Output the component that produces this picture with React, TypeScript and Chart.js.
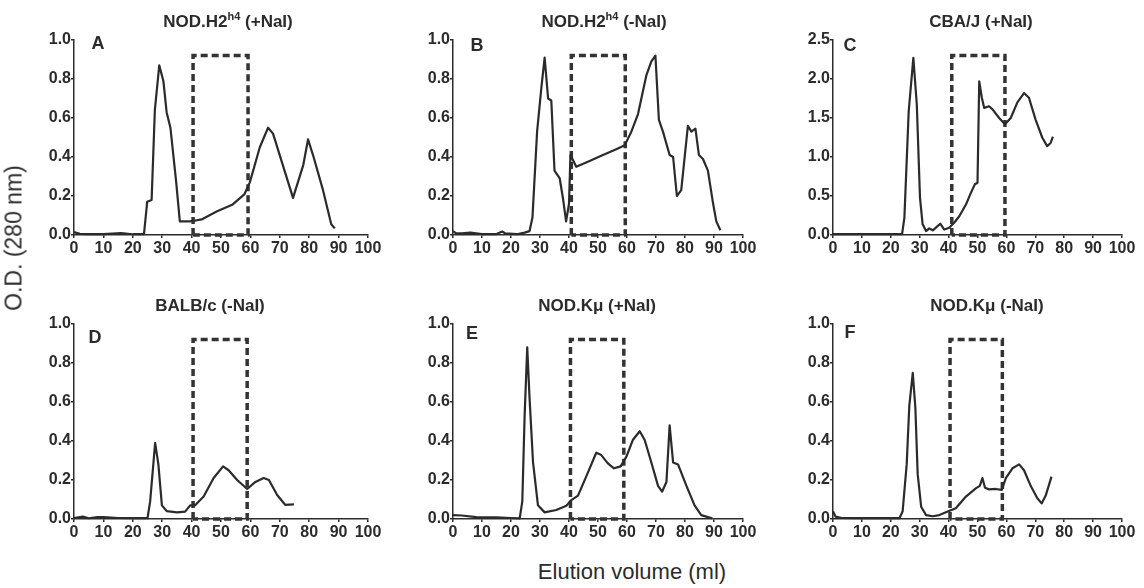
import React, { useEffect, useRef } from "react";
import { Chart, registerables } from "chart.js";

Chart.register(...registerables);

// ---------- data ----------
const xTickStep = 10;
const xMax = 100;

const aX = [0, 2, 5, 10, 16, 20, 23.8, 24.9, 26.4, 27.5, 29, 30.4, 31.5, 32.8, 34.7, 36, 39.4, 40.5, 43.4, 48.5, 54, 58, 59.8, 63.2, 66, 67.7, 71, 74.5, 78, 79.6, 81.3, 84.7, 87.5, 88.7];
const aY = [0.015, 0.006, 0.004, 0.004, 0.01, 0.004, 0.004, 0.17, 0.18, 0.64, 0.87, 0.79, 0.63, 0.55, 0.28, 0.07, 0.07, 0.072, 0.08, 0.12, 0.157, 0.21, 0.27, 0.45, 0.55, 0.52, 0.36, 0.19, 0.36, 0.49, 0.41, 0.23, 0.055, 0.034];

const bX = [0, 1, 3, 6, 10, 15, 17, 18, 22, 24.7, 26.4, 27.4, 29, 30.5, 31.6, 32.8, 33.9, 35, 36.8, 37.9, 39, 40, 40.5, 42.5, 47.1, 51.7, 56.3, 59.2, 61.5, 63.8, 66.7, 68.4, 69.8, 71, 72.4, 74.7, 75.9, 77.2, 78.7, 81, 82.2, 83.6, 84.8, 86.2, 87.9, 89.7, 90.8, 92.2];
const bY = [0.02, 0.01, 0.008, 0.012, 0.005, 0.005, 0.018, 0.008, 0.004, 0.012, 0.02, 0.09, 0.53, 0.76, 0.91, 0.7, 0.69, 0.33, 0.29, 0.19, 0.07, 0.16, 0.41, 0.35, 0.38, 0.41, 0.44, 0.46, 0.53, 0.62, 0.82, 0.89, 0.92, 0.59, 0.53, 0.41, 0.4, 0.2, 0.23, 0.56, 0.53, 0.545, 0.41, 0.39, 0.33, 0.16, 0.07, 0.024];

const cX = [0, 10, 20, 23.9, 24.7, 26.2, 27.8, 29, 30.1, 31, 32.2, 33.3, 34.5, 35.6, 37.1, 38.5, 40.2, 42, 43.7, 46, 47.7, 49.1, 50, 50.6, 51.5, 52.3, 54, 55.2, 57.5, 59.5, 61.5, 63.8, 66.1, 67.8, 70.1, 72.4, 74.1, 75.3, 76.1];
const cY = [0.01, 0.01, 0.01, 0.01, 0.22, 1.59, 2.27, 1.67, 0.48, 0.14, 0.05, 0.085, 0.06, 0.094, 0.145, 0.07, 0.094, 0.16, 0.24, 0.39, 0.54, 0.65, 0.67, 1.97, 1.76, 1.63, 1.65, 1.61, 1.5, 1.42, 1.5, 1.7, 1.82, 1.76, 1.48, 1.25, 1.14, 1.18, 1.26];

const dX = [0, 3, 5, 8, 10, 15, 20, 25, 25.9, 27.6, 28.7, 29.9, 31.6, 35, 37.8, 39.5, 41.2, 44.1, 47.5, 50.7, 52.6, 55.5, 58.9, 61.7, 64.5, 66.3, 69.1, 71.9, 74.8];
const dY = [0.005, 0.012, 0.004, 0.01, 0.01, 0.005, 0.004, 0.004, 0.09, 0.39, 0.28, 0.07, 0.04, 0.034, 0.038, 0.07, 0.07, 0.115, 0.21, 0.27, 0.25, 0.2, 0.154, 0.19, 0.21, 0.2, 0.123, 0.072, 0.075];

const eX = [0, 3, 8, 15, 20, 23, 23.9, 24.7, 25.6, 26.4, 27.6, 29.3, 31.6, 35.6, 39.1, 40.8, 43.1, 46, 49.4, 51, 53.4, 55.5, 57.8, 59.8, 62, 64.4, 66.1, 68.4, 70.7, 72.1, 73.6, 74.7, 75.9, 77.6, 80.5, 83.3, 85.6, 88.5, 89.4];
const eY = [0.02, 0.018, 0.01, 0.008, 0.005, 0.003, 0.09, 0.53, 0.88, 0.62, 0.29, 0.07, 0.034, 0.046, 0.068, 0.097, 0.12, 0.22, 0.34, 0.33, 0.285, 0.26, 0.27, 0.32, 0.405, 0.45, 0.405, 0.29, 0.17, 0.14, 0.19, 0.48, 0.29, 0.28, 0.17, 0.07, 0.02, 0.007, 0.003];

const fX = [0, 0.9, 3, 10, 20, 23, 24.1, 25.5, 26.4, 27.6, 28.5, 29.3, 30.5, 32.2, 34.5, 36.8, 39.7, 42.5, 46, 49.4, 50.8, 51.7, 52.6, 54, 56.3, 58.4, 59.8, 62.1, 64.4, 66.1, 68.4, 70.7, 72.2, 73.6, 75.6];
const fY = [0.04, 0.012, 0.005, 0.004, 0.004, 0.004, 0.04, 0.28, 0.58, 0.75, 0.57, 0.23, 0.063, 0.02, 0.014, 0.02, 0.038, 0.055, 0.115, 0.157, 0.17, 0.21, 0.16, 0.152, 0.154, 0.149, 0.21, 0.26, 0.28, 0.25, 0.17, 0.106, 0.08, 0.12, 0.217];

const titleMain = ["NOD.H2", "NOD.H2", "CBA/J (+NaI)", "BALB/c (-NaI)", "NOD.Kμ (+NaI)", "NOD.Kμ (-NaI)"];
const titleSup = ["h4", "h4", "", "", "", ""];
const titleTail = [" (+NaI)", " (-NaI)", "", "", "", ""];
const letters = ["A", "B", "C", "D", "E", "F"];
const yMaxes = [1.0, 1.0, 2.5, 1.0, 1.0, 1.0];
const ySteps = [0.2, 0.2, 0.5, 0.2, 0.2, 0.2];
const boxLeft = [40.5, 40.8, 41.1, 40.5, 40.5, 40.5];
const boxRight = [59.2, 59.4, 59.5, 58.9, 58.9, 58.6];
const boxTop = [0.92, 0.92, 2.3, 0.92, 0.92, 0.92];
const seriesX = [aX, bX, cX, dX, eX, fX];
const seriesY = [aY, bY, cY, dY, eY, fY];

// ---------- layout ----------
const INK = "#2b2b2b";
const FONT = "'Liberation Sans', Arial, Helvetica, sans-serif";
const Y_AXIS_W = 50;
const X_AXIS_H = 26;
const PAD_T = 14;
const PAD_R = 20;

// plot-area pixel boxes: [left, top, right, bottom]
const areas = [
  [74, 40, 368, 235],
  [453, 40, 743, 235],
  [833, 40, 1122, 235],
  [74, 324, 368, 519],
  [453, 324, 743, 519],
  [833, 324, 1122, 519],
];
const titlePos = [
  [228, 21], [604, 21], [981, 21],
  [210, 305], [597, 305], [987, 305],
];
const letterPos = [
  [98, 43], [477, 45], [850, 45],
  [95, 337], [472, 333], [850, 332],
];

function PanelChart({ i }: { i: number }) {
  const ref = useRef<HTMLCanvasElement>(null);
  const [L, T, R, B] = areas[i];
  const w = R - L + Y_AXIS_W + PAD_R;
  const h = B - T + PAD_T + X_AXIS_H;

  useEffect(() => {
    const canvas = ref.current;
    if (!canvas) return;
    const xs = seriesX[i];
    const ys = seriesY[i];
    const curve = xs.map((x, k) => ({ x, y: ys[k] }));
    const box = [
      { x: boxLeft[i], y: 0 },
      { x: boxLeft[i], y: boxTop[i] },
      { x: boxRight[i], y: boxTop[i] },
      { x: boxRight[i], y: 0 },
      { x: boxLeft[i], y: 0 },
    ];
    const tickFont = { family: FONT, size: 16, weight: "bold" as const };
    const chart = new Chart(canvas, {
      type: "line",
      data: {
        datasets: [
          {
            data: curve,
            borderColor: INK,
            borderWidth: 2.2,
            pointRadius: 0,
            tension: 0,
            borderJoinStyle: "round",
            fill: false,
            clip: false as any,
          },
          {
            data: box,
            borderColor: "#333",
            borderWidth: 3.5,
            borderDash: [7, 4],
            borderJoinStyle: "miter",
            pointRadius: 0,
            tension: 0,
            fill: false,
            clip: false as any,
          },
        ],
      },
      options: {
        responsive: false,
        animation: false,
        devicePixelRatio: 1,
        layout: { padding: { top: PAD_T, right: PAD_R, left: 0, bottom: 0 } },
        plugins: {
          legend: { display: false },
          tooltip: { enabled: false },
          title: { display: false },
        },
        scales: {
          x: {
            type: "linear",
            min: 0,
            max: xMax,
            ticks: {
              stepSize: xTickStep,
              autoSkip: false,
              maxRotation: 0,
              padding: 1,
              color: INK,
              font: tickFont,
            },
            grid: {
              display: true,
              drawOnChartArea: false,
              drawTicks: true,
              tickLength: 3,
              color: INK,
              lineWidth: 1.5,
            },
            border: { display: true, color: INK, width: 1.5 },
            afterFit: (s: any) => {
              s.height = X_AXIS_H;
            },
          },
          y: {
            type: "linear",
            min: 0,
            max: yMaxes[i],
            ticks: {
              stepSize: ySteps[i],
              autoSkip: false,
              padding: 0,
              color: INK,
              font: tickFont,
              callback: (v: any) => Number(v).toFixed(1),
            },
            grid: {
              display: true,
              drawOnChartArea: false,
              drawTicks: true,
              tickLength: 3,
              color: INK,
              lineWidth: 1.5,
            },
            border: { display: true, color: INK, width: 1.5 },
            afterFit: (s: any) => {
              s.width = Y_AXIS_W;
            },
          },
        },
      },
    } as any);
    return () => chart.destroy();
  }, [i]);

  return (
    <canvas
      ref={ref}
      width={w}
      height={h}
      style={{ position: "absolute", left: L - Y_AXIS_W, top: T - PAD_T, width: w, height: h }}
    />
  );
}

const textBase: React.CSSProperties = {
  position: "absolute",
  transform: "translate(-50%, -50%)",
  whiteSpace: "nowrap",
  lineHeight: 1,
  color: INK,
  fontFamily: FONT,
};

export default function App() {
  return (
    <div
      style={{
        position: "fixed",
        left: 0,
        top: 0,
        width: 1144,
        height: 588,
        background: "#fff",
        overflow: "hidden",
        fontFamily: FONT,
      }}
    >
      {areas.map((_, i) => (
        <PanelChart key={i} i={i} />
      ))}
      {titleMain.map((t, i) => (
        <div
          key={"t" + i}
          style={{ ...textBase, left: titlePos[i][0], top: titlePos[i][1], fontSize: 17, fontWeight: "bold" }}
        >
          {t}
          {titleSup[i] ? (
            <sup style={{ fontSize: 11, verticalAlign: "7px", lineHeight: 0 }}>{titleSup[i]}</sup>
          ) : null}
          {titleTail[i]}
        </div>
      ))}
      {letters.map((l, i) => (
        <div
          key={"l" + i}
          style={{ ...textBase, left: letterPos[i][0], top: letterPos[i][1], fontSize: 18, fontWeight: "bold" }}
        >
          {l}
        </div>
      ))}
      <div
        style={{
          ...textBase,
          left: 14,
          top: 238,
          fontSize: 23,
          transform: "translate(-50%, -50%) rotate(-90deg)",
        }}
      >
        O.D. (280 nm)
      </div>
      <div style={{ ...textBase, left: 632, top: 572, fontSize: 22 }}>Elution volume (ml)</div>
    </div>
  );
}
